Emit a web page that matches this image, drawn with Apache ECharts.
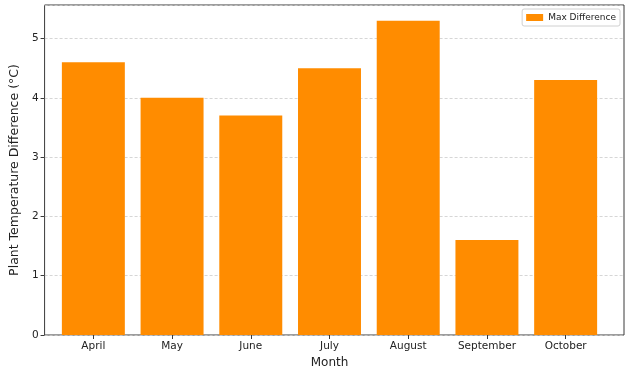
<!DOCTYPE html>
<html>
<head>
<meta charset="utf-8">
<script src="https://cdn.jsdelivr.net/npm/echarts@6/dist/echarts.min.js"></script>
<style>
  html, body { margin: 0; padding: 0; background: #fff; }
  #chart { width: 627px; height: 376px; }
</style>
</head>
<body>
<div id="chart"></div>
<script>
const months = ['April', 'May', 'June', 'July', 'August', 'September', 'October']
const maxDifference = [4.6, 4.0, 3.7, 4.5, 5.3, 1.6, 4.3]
const yMax = 5.565

const font = 'DejaVu Sans'
const chart = echarts.init(document.getElementById('chart'), undefined, { renderer: 'canvas' })

chart.setOption({
  backgroundColor: '#fff',
  animation: false,
  textStyle: { fontFamily: font },
  legend: {
    right: 7,
    top: 9,
    icon: 'rect',
    itemWidth: 17,
    itemHeight: 7,
    itemGap: 5,
    padding: [4, 4, 4, 4],
    borderColor: '#d0d0d0',
    borderWidth: 1,
    borderRadius: 2,
    textStyle: { fontSize: 9, color: '#222', fontFamily: font },
    data: ['Max Difference'],
  },
  grid: [
    // full frame, carries the y axis and gridlines
    { left: 35, right: 3, top: 5, bottom: 41, show: true, borderColor: '#3a3a3a', borderWidth: 1, backgroundColor: 'transparent' },
    // inner area that matches matplotlib's category margins
    { left: 54, right: 22, top: 5, bottom: 41 },
  ],
  xAxis: [
    { gridIndex: 0, type: 'value', min: 0, max: 1, show: false },
    {
      gridIndex: 1,
      type: 'category',
      data: months,
      axisLine: { show: false },
      axisTick: { show: true, alignWithLabel: true, length: 4, lineStyle: { color: '#3a3a3a' } },
      axisLabel: { color: '#222', fontSize: 10.5, margin: 6 },
      name: 'Month',
      nameLocation: 'middle',
      nameGap: 20,
      nameTextStyle: { fontSize: 12, color: '#222' },
    },
  ],
  yAxis: [
    {
      gridIndex: 0,
      type: 'value',
      min: 0,
      max: yMax,
      interval: 1,
      axisLine: { show: false },
      axisTick: { show: true, length: 4, lineStyle: { color: '#3a3a3a' } },
      axisLabel: { color: '#222', fontSize: 10.5, margin: 6, showMaxLabel: false },
      splitLine: { show: true, lineStyle: { color: '#cccccc', type: [3, 2], width: 0.8 } },
      name: 'Plant Temperature Difference (°C)',
      nameLocation: 'middle',
      nameGap: 21,
      nameTextStyle: { fontSize: 12.5, color: '#222' },
    },
    { gridIndex: 1, type: 'value', min: 0, max: yMax, show: false },
  ],
  series: [
    {
      name: 'Max Difference',
      type: 'bar',
      xAxisIndex: 1,
      yAxisIndex: 1,
      data: maxDifference,
      barWidth: '80%',
      itemStyle: { color: '#FF8C00' },
    },
  ],
})
</script>
</body>
</html>
